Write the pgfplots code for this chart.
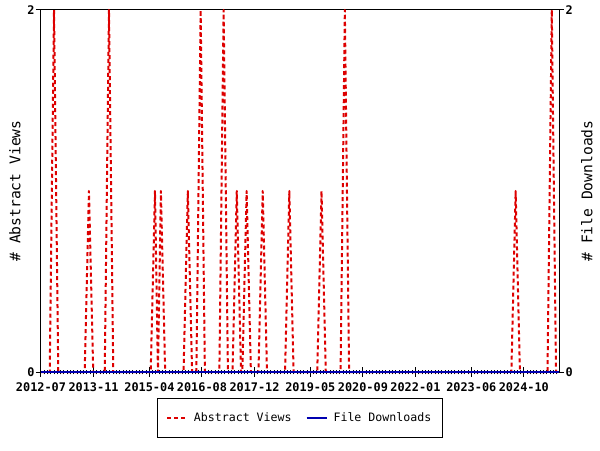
\documentclass[border=0pt]{standalone}
\usepackage{pgfplots}
\pgfplotsset{compat=1.18}
\usepackage{fontspec}
\setmonofont{DejaVu Sans Mono}
\definecolor{avred}{RGB}{221,0,0}
\definecolor{fdblue}{RGB}{0,0,176}
\begin{document}
\begin{tikzpicture}
\path[use as bounding box] (-30.75pt,-58.5pt) rectangle (419.25pt,279pt);
\begin{axis}[
  at={(0,0)}, anchor=south west,
  scale only axis, width=388.5pt, height=271.5pt,
  xmin=0, xmax=157.7, ymin=0, ymax=2,
  clip=false,
  xtick pos=bottom,
  xtick={0,16,33,49,65,82,98,114,131,147},
  xticklabels={2012-07,2013-11,2015-04,2016-08,2017-12,2019-05,2020-09,2022-01,2023-06,2024-10},
  minor xtick={0,1,...,157},
  ytick=\empty,
  tick align=center,
  major tick length=7pt,
  minor tick length=3.6pt,
  every tick/.style={black, line width=0.75pt},
  axis line style={line width=0.75pt},
  xticklabel style={font=\ttfamily\bfseries\fontsize{8.9}{10}\selectfont, yshift=-1pt},
  legend style={at={(0.5,-0.0718)}, anchor=north, legend columns=2, draw=black, line width=0.75pt,
    font=\ttfamily\fontsize{8.7}{10}\selectfont, inner xsep=6.5pt, inner ysep=8.4pt,
    /tikz/every even column/.append style={column sep=8.5pt},
    /tikz/every odd column/.append style={column sep=2.4pt}},
  legend image code/.code={\draw[#1] (0pt,0pt) -- (15pt,0pt);},
]
\addplot[avred, line width=1.5pt, line join=round, dash pattern=on 3pt off 2.25pt] coordinates {
(0,0) (2.66,0) (3.96,2) (5.26,0) (13.3,0) (14.6,1) (15.9,0) (19.4,0) (20.7,2) (22.0,0)
(33.4,0) (34.7,1) (35.6,0) (36.5,1) (37.8,0) (43.4,0) (44.7,1) (46.0,0) (47.3,0) (48.6,2) (49.9,0)
(54.3,0) (55.6,2) (56.9,0) (58.3,0) (59.6,1) (60.9,0) (61.3,0) (62.6,1) (63.9,0)
(66.2,0) (67.5,1) (68.8,0) (74.3,0) (75.6,1) (76.9,0) (84.1,0) (85.4,1) (86.7,0)
(91.2,0) (92.5,2) (93.8,0) (143.2,0) (144.5,1) (145.8,0) (154.2,0) (155.5,2) (156.8,0) (157.7,0)
};
\addlegendentry{Abstract Views}
\addplot[fdblue, line width=1.5pt] coordinates {(0,0) (157.7,0)};
\addlegendentry{File Downloads}
\end{axis}
\begin{axis}[
  at={(0,0)}, anchor=south west,
  scale only axis, width=388.5pt, height=271.5pt,
  xmin=0, xmax=157.7, ymin=0, ymax=2,
  hide x axis, axis y line*=left,
  ytick={0,2}, tick align=outside, major tick length=3.75pt,
  every tick/.style={black, line width=0.75pt},
  axis line style={line width=0.75pt},
  yticklabel style={font=\ttfamily\bfseries\fontsize{8.9}{10}\selectfont, inner xsep=1pt, /pgf/number format/assume math mode=true},
  ylabel={\# Abstract Views},
  ylabel style={font=\ttfamily\fontsize{11}{12}\selectfont, at={(axis description cs:-0.0502,0.5)}, anchor=center, rotate=0},
]
\end{axis}
\begin{axis}[
  at={(0,0)}, anchor=south west,
  scale only axis, width=388.5pt, height=271.5pt,
  xmin=0, xmax=157.7, ymin=0, ymax=2,
  hide x axis, axis y line*=right,
  ytick={0,2}, tick align=outside, major tick length=3.75pt,
  every tick/.style={black, line width=0.75pt},
  axis line style={line width=0.75pt},
  yticklabel style={font=\ttfamily\bfseries\fontsize{8.9}{10}\selectfont, inner xsep=1pt, /pgf/number format/assume math mode=true},
  ylabel={\# File Downloads},
  ylabel style={font=\ttfamily\fontsize{11}{12}\selectfont, at={(axis description cs:1.054,0.5)}, anchor=center, rotate=0},
]
\end{axis}
\end{tikzpicture}
\end{document}
